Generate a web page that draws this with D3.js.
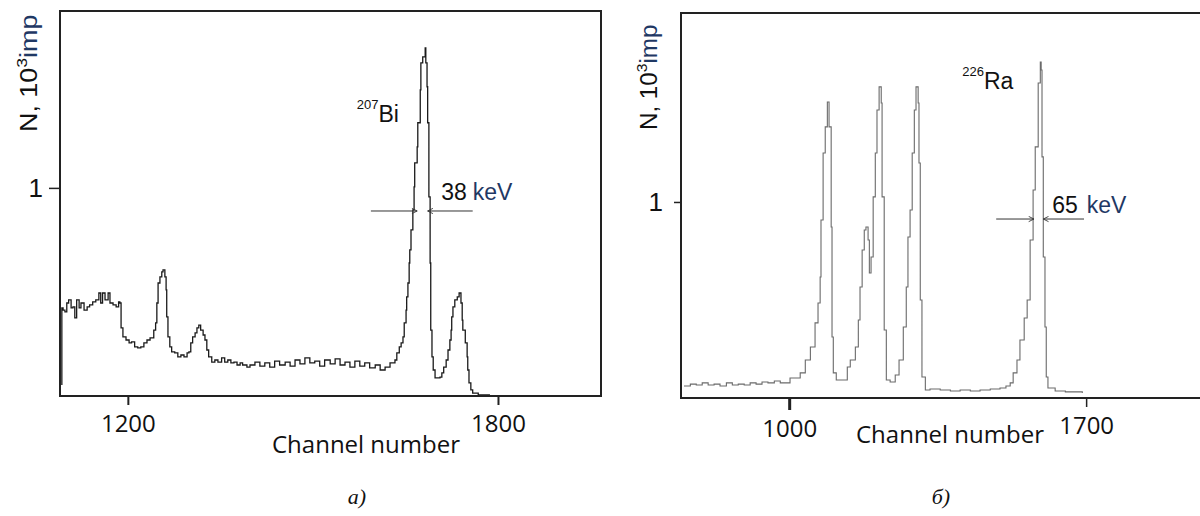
<!DOCTYPE html>
<html>
<head>
<meta charset="utf-8">
<script src="https://cdn.jsdelivr.net/npm/d3@7"></script>
<style>
  body { margin: 0; background: #fff; }
  svg { display: block; }
</style>
</head>
<body>
<div id="chart"></div>
<script>
// Panel a) - 207Bi spectrum (channel, counts in 10^3 imp)
const biChannels = [1093,1093,1095,1098,1101,1104,1108,1111,1114,1117,
  1121,1124,1129,1134,1138,1143,1148,1153,1156,1159,
  1163,1168,1171,1176,1181,1185,1187,1189,1192,1197,
  1202,1206,1211,1216,1221,1226,1231,1236,1239,1242,
  1245,1247,1249,1252,1255,1257,1260,1262,1263,1265,
  1268,1271,1276,1281,1286,1291,1296,1299,1302,1305,
  1309,1312,1315,1318,1322,1325,1328,1331,1336,1341,
  1346,1352,1357,1362,1367,1372,1377,1382,1386,1393,
  1398,1406,1414,1422,1430,1438,1446,1455,1463,1471,
  1479,1487,1495,1503,1511,1519,1528,1536,1544,1552,
  1560,1568,1576,1584,1592,1601,1609,1617,1625,1633,
  1636,1640,1643,1646,1648,1651,1652,1654,1656,1657,
  1659,1662,1664,1665,1669,1670,1674,1675,1678,1682,
  1683,1685,1686,1688,1690,1691,1693,1695,1698,1701,
  1706,1709,1712,1716,1719,1722,1724,1725,1727,1730,
  1734,1737,1740,1742,1743,1747,1750,1751,1753,1756,
  1759,1768,1779,1787];
const biCounts = [0.053,0.423,0.413,0.404,0.447,0.462,0.423,0.428,0.375,0.462,
  0.423,0.447,0.413,0.428,0.438,0.452,0.462,0.495,0.447,0.495,
  0.462,0.495,0.447,0.438,0.428,0.452,0.447,0.327,0.284,0.269,
  0.255,0.260,0.236,0.231,0.236,0.255,0.269,0.279,0.279,0.317,
  0.351,0.447,0.543,0.572,0.596,0.606,0.572,0.510,0.380,0.284,
  0.236,0.212,0.207,0.188,0.197,0.188,0.207,0.212,0.255,0.284,
  0.303,0.327,0.341,0.317,0.293,0.269,0.221,0.188,0.163,0.173,
  0.163,0.183,0.163,0.173,0.159,0.163,0.149,0.159,0.149,0.139,
  0.149,0.163,0.144,0.159,0.139,0.168,0.149,0.163,0.144,0.173,
  0.154,0.183,0.159,0.168,0.144,0.173,0.154,0.178,0.149,0.163,
  0.139,0.168,0.144,0.159,0.135,0.149,0.125,0.139,0.159,0.173,
  0.207,0.236,0.255,0.284,0.351,0.413,0.476,0.543,0.639,0.702,
  0.798,0.894,1.005,1.120,1.197,1.313,1.471,1.601,1.630,1.673,
  1.601,1.486,1.313,0.957,0.639,0.317,0.188,0.125,0.087,0.087,
  0.091,0.111,0.139,0.173,0.221,0.269,0.317,0.380,0.428,0.462,
  0.476,0.495,0.447,0.365,0.317,0.255,0.188,0.125,0.063,0.029,
  0.014,0.005,0.005,0.005];

// Panel б) - 226Ra spectrum
const raChannels = [752,767,781,795,809,823,837,852,866,880,
  894,908,922,936,950,965,979,1002,1026,1038,
  1050,1061,1068,1073,1075,1080,1085,1090,1094,1099,
  1101,1104,1111,1127,1137,1144,1156,1163,1167,1172,
  1177,1181,1186,1189,1193,1198,1203,1207,1212,1217,
  1219,1224,1229,1238,1250,1259,1269,1276,1280,1285,
  1290,1295,1299,1304,1306,1309,1313,1321,1332,1356,
  1380,1403,1427,1450,1474,1497,1511,1521,1528,1537,
  1544,1554,1561,1568,1575,1580,1587,1592,1594,1596,
  1599,1603,1606,1610,1627,1651,1674,1691];
const raCounts = [0.061,0.071,0.066,0.077,0.066,0.071,0.061,0.077,0.066,0.071,
  0.066,0.077,0.071,0.082,0.077,0.087,0.077,0.102,0.128,0.194,
  0.260,0.383,0.485,0.617,0.908,1.250,1.383,1.510,1.383,0.872,
  0.311,0.128,0.092,0.092,0.158,0.194,0.260,0.398,0.566,0.755,
  0.857,0.872,0.806,0.638,0.719,1.026,1.250,1.469,1.587,1.505,
  1.026,0.347,0.092,0.082,0.117,0.194,0.362,0.566,0.821,0.959,
  1.250,1.469,1.587,1.505,1.199,0.500,0.107,0.041,0.046,0.041,
  0.036,0.041,0.036,0.041,0.046,0.051,0.061,0.077,0.128,0.194,
  0.296,0.408,0.500,0.806,1.061,1.281,1.607,1.714,1.673,1.230,
  0.719,0.362,0.107,0.051,0.036,0.031,0.031,0.026];

const biTicks = [1200, 1800];
const raTicks = [1000, 1700];
const countTicks = [1];

// FWHM markers: [left arrow start, left arrow end, right arrow start, right arrow end]
const biFwhm = [1594, 1669, 1759, 1686];
const raFwhm = [1488, 1577, 1695, 1599];

const width = 1200;
const height = 516;
const navy = "#1f3864";

const svg = d3.select("#chart")
  .append("svg")
  .attr("width", width)
  .attr("height", height)
  .style("background", "#fff");

// open chevron arrow head
svg.append("defs").append("marker")
  .attr("id", "arrow")
  .attr("viewBox", "0 0 8 8")
  .attr("refX", 7)
  .attr("refY", 4)
  .attr("markerWidth", 7)
  .attr("markerHeight", 7)
  .attr("markerUnits", "userSpaceOnUse")
  .attr("orient", "auto")
  .append("path")
  .attr("d", "M1,1 L7,4 L1,7")
  .attr("fill", "none")
  .attr("stroke", "#333")
  .attr("stroke-width", 1);

function drawPanel(p) {
  const g = svg.append("g");

  const x = d3.scaleLinear().domain(p.xDomain).range([p.left, p.right]);
  const y = d3.scaleLinear().domain(p.yDomain).range([p.bottom, p.top]);

  // spectrum
  const line = d3.line()
    .x(d => x(d[0]))
    .y(d => y(d[1]))
    .curve(d3.curveStepAfter);

  g.append("path")
    .datum(d3.zip(p.channels, p.counts))
    .attr("d", line)
    .attr("fill", "none")
    .attr("stroke", p.lineColor)
    .attr("stroke-width", p.lineWidth);

  // frame
  g.append("rect")
    .attr("x", p.left)
    .attr("y", p.top)
    .attr("width", p.right - p.left)
    .attr("height", p.bottom - p.top)
    .attr("fill", "none")
    .attr("stroke", "#222")
    .attr("stroke-width", 2);

  // x axis
  const xAxis = g.append("g")
    .attr("transform", `translate(0,${p.bottom})`)
    .call(d3.axisBottom(x).tickValues(p.xTicks).tickSize(9).tickPadding(10).tickFormat(d3.format("d")));
  xAxis.select(".domain").remove();
  xAxis.selectAll(".tick line")
    .attr("stroke", "#222")
    .attr("y2", (d, i) => p.xTickLen[i])
    .attr("stroke-width", (d, i) => p.xTickWidth[i]);
  xAxis.selectAll(".tick text")
    .attr("y", (d, i) => p.xTickLen[i] + 10)
    .attr("fill", "#111")
    .style("font-family", "'Open Sans', sans-serif")
    .style("font-size", "24px");

  // y axis
  const yAxis = g.append("g")
    .attr("transform", `translate(${p.left},0)`)
    .call(d3.axisLeft(y).tickValues(countTicks).tickSize(p.yTickLen).tickPadding(p.yPad).tickFormat(d3.format("d")));
  yAxis.select(".domain").remove();
  yAxis.selectAll(".tick line").attr("stroke", "#222").attr("stroke-width", 1.5);
  yAxis.selectAll(".tick text")
    .attr("fill", "#111")
    .style("font-family", "'Liberation Sans', Arial, sans-serif")
    .style("font-size", "26px");

  // y title
  const yt = g.append("text")
    .attr("transform", `translate(${p.yTitleX},${p.yTitleY}) rotate(-90) scale(${p.yTitleStretch},1)`)
    .style("font-family", "'Liberation Sans', Arial, sans-serif")
    .style("font-size", "23px")
    .attr("fill", "#111");
  yt.append("tspan").text("N, 10");
  yt.append("tspan").attr("dy", -10).style("font-size", "15px").text("3");
  yt.append("tspan").attr("dy", 10).attr("fill", navy).text("imp");

  // x title
  g.append("text")
    .attr("x", p.xTitleX)
    .attr("y", p.xTitleY)
    .attr("text-anchor", "middle")
    .attr("fill", "#111")
    .style("font-family", "'Open Sans', sans-serif")
    .style("font-size", "24px")
    .text("Channel number");

  // panel caption
  g.append("text")
    .attr("x", p.xTitleX - 9)
    .attr("y", 504)
    .attr("text-anchor", "middle")
    .attr("fill", "#111")
    .style("font-family", "'Liberation Serif', 'Times New Roman', serif")
    .style("font-style", "italic")
    .style("font-size", "22px")
    .text(p.caption);

  // isotope label
  const iso = g.append("text")
    .attr("x", x(p.isoAt[0]))
    .attr("y", y(p.isoAt[1]))
    .attr("fill", "#111")
    .style("font-family", "'Liberation Sans', Arial, sans-serif")
    .style("font-size", "23px");
  iso.append("tspan").attr("dy", -13).style("font-size", "13px").text(p.isoMass);
  iso.append("tspan").attr("dy", 13).text(p.isoName);

  // FWHM arrows
  const lvl = p.fwhmLevel;
  [[p.fwhm[0], p.fwhm[1]], [p.fwhm[2], p.fwhm[3]]].forEach(a => {
    g.append("line")
      .attr("x1", x(a[0])).attr("x2", x(a[1]))
      .attr("y1", y(lvl)).attr("y2", y(lvl))
      .attr("stroke", "#333")
      .attr("stroke-width", 1)
      .attr("marker-end", "url(#arrow)");
  });

  // FWHM label
  const fw = g.append("text")
    .attr("x", x(p.fwhmTextAt[0]))
    .attr("y", y(p.fwhmTextAt[1]))
    .attr("fill", "#111")
    .style("font-family", "'Liberation Sans', Arial, sans-serif")
    .style("font-size", "23px");
  fw.append("tspan").text(p.fwhmValue);
  fw.append("tspan").attr("dx", p.fwhmGap).attr("fill", navy).text("keV");

  return { x, y };
}

// a) 207Bi
drawPanel({
  channels: biChannels, counts: biCounts,
  xDomain: [1090, 1967], yDomain: [0, 1.85],
  left: 60, right: 601, top: 11, bottom: 396,
  xTicks: biTicks, xTickLen: [9, 9], xTickWidth: [2, 2],
  yTickLen: 11, yPad: 6,
  yTitleX: 37, yTitleY: 132, yTitleStretch: 1.17,
  xTitleX: 366, xTitleY: 453,
  caption: "a)",
  lineColor: "#1a1a1a", lineWidth: 1.3,
  isoAt: [1571, 1.317], isoMass: "207", isoName: "Bi",
  fwhm: biFwhm, fwhmLevel: 0.889,
  fwhmTextAt: [1708, 0.942], fwhmValue: "38", fwhmGap: 6
});

// б) 226Ra
drawPanel({
  channels: raChannels, counts: raCounts,
  xDomain: [745, 1992], yDomain: [0, 1.964],
  left: 681, right: 1210, top: 13, bottom: 398,
  xTicks: raTicks, xTickLen: [12, 9], xTickWidth: [3, 1.5],
  yTickLen: 7, yPad: 11,
  yTitleX: 657, yTitleY: 130, yTitleStretch: 1.05,
  xTitleX: 950, xTitleY: 443,
  caption: "б)",
  lineColor: "#6a6a6a", lineWidth: 1.1,
  isoAt: [1408, 1.577], isoMass: "226", isoName: "Ra",
  fwhm: raFwhm, fwhmLevel: 0.913,
  fwhmTextAt: [1620, 0.944], fwhmValue: "65", fwhmGap: 9
});
</script>
</body>
</html>
